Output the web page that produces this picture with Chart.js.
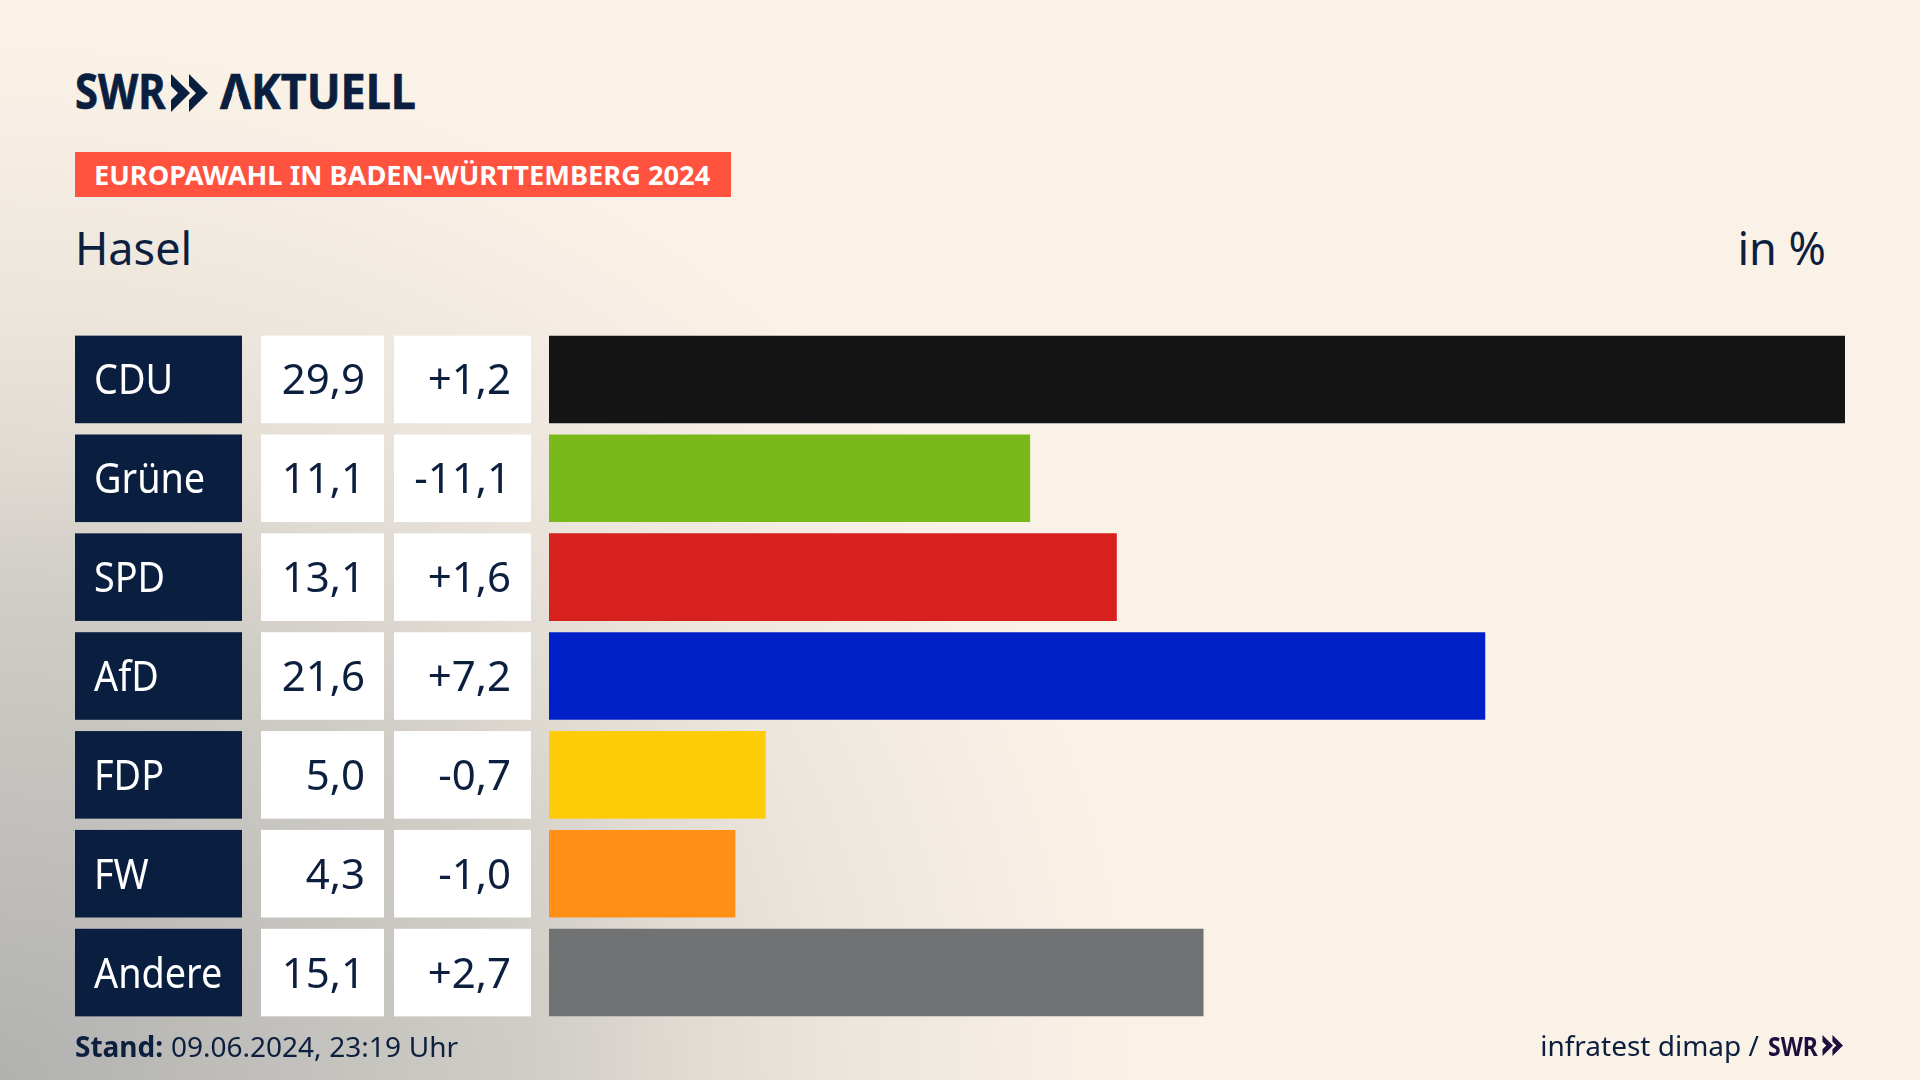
<!DOCTYPE html>
<html lang="de">
<head>
<meta charset="utf-8">
<title>Europawahl Hasel</title>
<script src="https://cdn.jsdelivr.net/npm/chart.js@4"></script>
<style>
  html, body { margin: 0; padding: 0; }
  body {
    width: 1920px; height: 1080px; overflow: hidden; position: relative;
    font-family: "Noto Sans", sans-serif; color: #0c1f3f;
    background-color: #fbf2e7;
    background-image:
      radial-gradient(ellipse 1150px 1050px at 0px 1080px, #b1b1b0 0%, #d0cdc6 46%, #e0dbd3 60%, #ece5dc 73%, #f6eee4 90%, #fbf2e7 100%);
  }
  canvas { position: absolute; left: 0; top: 0; }
  .abs { position: absolute; white-space: nowrap; line-height: 1; }
  #logoSwr, #logoAkt {
    font-family: "Noto Sans", sans-serif; font-weight: 700; font-size: 49px; color: #0a1f3f;
    -webkit-text-stroke: .7px #0a1f3f; transform-origin: left top;
  }
  #logoSwr { left: 75px; top: 66px; transform: scaleX(.85); }
  #logoAkt { left: 220px; top: 66px; transform: scaleX(.915); }
  #badge { position: absolute; left: 75px; top: 152px; width: 656px; height: 45px; background: #ff5340; }
  #badgeText { left: 94px; top: 161px; font-size: 27px; font-weight: 700; color: #fff; transform-origin: left top; transform: scaleX(1.008); }
  #place { left: 75px; top: 225px; font-size: 45px; }
  #unit { right: 94px; top: 225px; font-size: 45px; }
  #stand { left: 75px; top: 1032px; font-size: 28px; word-spacing: .5px; }
  #stand b { font-weight: 700; }
  #source { right: 161px; top: 1031px; font-size: 28px; }
  #swrSmall { left: 1768px; top: 1032px; font-size: 27px; font-weight: 700; color: #1d0f3d; transform-origin: left top; transform: scaleX(.85); }
</style>
</head>
<body>
<div class="abs" id="logoSwr">SWR</div>
<svg class="abs" style="left:171px;top:74px" width="38" height="38" viewBox="0 0 38 38"><path fill="#0a1f3f" d="M0 0 L19 19 L0 38 L0 26 L7 19 L0 12 Z M18 0 L37 19 L18 38 L18 26 L25 19 L18 12 Z"/></svg>
<div class="abs" id="logoAkt">AKTUELL</div>
<svg class="abs" style="left:220px;top:74px" width="32" height="37" viewBox="0 0 32 37"><path fill="#f9f0e5" d="M15.5 11 L7 37 L24 37 Z"/></svg>
<div id="badge"></div>
<div class="abs" id="badgeText">EUROPAWAHL IN BADEN-WÜRTTEMBERG 2024</div>
<div class="abs" id="place">Hasel</div>
<div class="abs" id="unit">in %</div>
<canvas id="chart" width="1920" height="1080"></canvas>
<div class="abs" id="stand"><b>Stand:</b> 09.06.2024, 23:19 Uhr</div>
<div class="abs" id="source">infratest dimap /</div>
<div class="abs" id="swrSmall">SWR</div>
<svg class="abs" style="left:1822px;top:1035px" width="22" height="21" viewBox="0 0 38 38"><path fill="#1d0f3d" d="M0 0 L19 19 L0 38 L0 26 L7 19 L0 12 Z M18 0 L37 19 L18 38 L18 26 L25 19 L18 12 Z"/></svg>

<script>
// chart data
var parties    = ['CDU', 'Grüne', 'SPD', 'AfD', 'FDP', 'FW', 'Andere'];
var shares     = [29.9, 11.1, 13.1, 21.6, 5.0, 4.3, 15.1];
var changes    = [1.2, -11.1, 1.6, 7.2, -0.7, -1.0, 2.7];
var barColors  = ['#141414', '#7ab91a', '#d8201f', '#0020c8', '#ffcc0a', '#ff8f16', '#717274'];

function fmtShare(v) { return v.toFixed(1).replace('.', ','); }
function fmtChange(v) { return (v > 0 ? '+' : '') + fmtShare(v); }

// the three table columns left of the bars, one row per category
var tableCells = {
    id: 'tableCells',
    afterDatasetsDraw: function (chart) {
        var c = chart.ctx;
        var meta = chart.getDatasetMeta(0);
        c.save();
        c.font = '42px "Noto Sans", sans-serif';
        parties.forEach(function (name, i) {
            var yMid = chart.scales.y.getPixelForValue(i);
            var h = meta.data[i].height;
            var top = yMid - h / 2;

            c.fillStyle = '#0a1f3f';
            c.fillRect(75, top, 167, h);
            c.fillStyle = '#ffffff';
            c.fillRect(261, top, 123, h);
            c.fillRect(394, top, 137, h);

            c.textBaseline = 'alphabetic';
            c.textAlign = 'left';
            c.fillStyle = '#ffffff';
            // party font in the original is narrower than Noto Sans
            c.save();
            c.translate(94, yMid + 15);
            c.scale(0.9, 1);
            c.fillText(name, 0, 0);
            c.restore();
            c.textAlign = 'right';
            c.fillStyle = '#0c1f3f';
            c.fillText(fmtShare(shares[i]), 365, yMid + 15);
            c.fillText(fmtChange(changes[i]), 511, yMid + 15);
        });
        c.restore();
    }
};

new Chart(document.getElementById('chart').getContext('2d'), {
    type: 'bar',
    data: {
        labels: parties,
        datasets: [{
            data: shares,
            backgroundColor: barColors,
            borderWidth: 0,
            barPercentage: 0.886,
            categoryPercentage: 1
        }]
    },
    options: {
        indexAxis: 'y',
        responsive: false,
        animation: false,
        layout: { padding: { left: 549, right: 75, top: 330, bottom: 58 } },
        plugins: { legend: { display: false }, tooltip: { enabled: false } },
        scales: {
            x: { display: false, min: 0, max: 29.9 },
            y: { display: false }
        }
    },
    plugins: [tableCells]
});
</script>
</body>
</html>
